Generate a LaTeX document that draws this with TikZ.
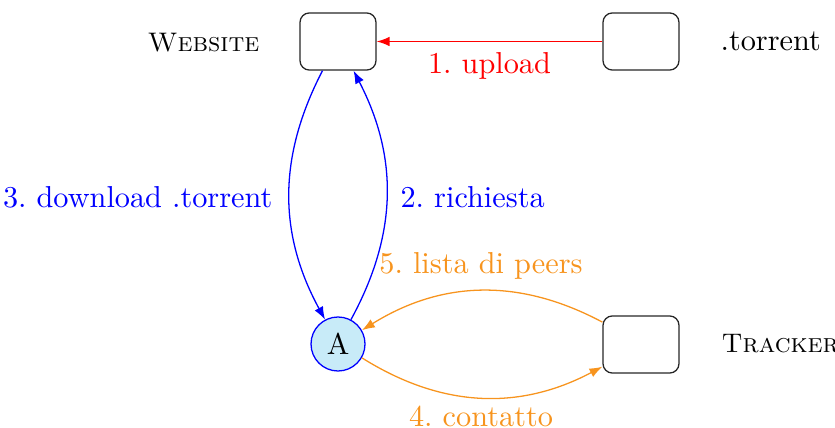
\documentclass[tikz,border=0pt]{standalone}
\usetikzlibrary{arrows.meta}
\definecolor{lblue}{RGB}{200,235,248}
\definecolor{orng}{RGB}{247,148,30}
\frenchspacing
\tikzset{
  box/.style={draw=black!85,rounded corners=3.3pt,minimum width=26.6pt,minimum height=20pt,inner sep=0pt,line width=0.45pt},
  peer/.style={draw=blue,fill=lblue,circle,minimum size=18.9pt,inner sep=0pt,line width=0.45pt},
  lab/.style={inner sep=0pt,font=\fontsize{10.6}{12}\selectfont},
  sclab/.style={inner sep=0pt,font=\fontsize{9.4}{11}\selectfont\scshape},
  conn/.style={-{Latex[length=4.5pt,width=3.3pt]},line width=0.45pt}
}
\begin{document}
\begin{tikzpicture}[x=0.35pt,y=-0.35pt]
\useasboundingbox (0,0) rectangle (835,428);
\node[box] (w) at (338,41.5) {};
\node[box] (t) at (641,41.5) {};
\node[box] (k) at (641,344.5) {};
\node[peer,font=\fontsize{10.5}{12}\selectfont] (a) at (338,344) {A};
\node[sclab,anchor=east] (wl) at (260,43) {Website};
\node[lab,anchor=west] (tl) at (720,41) {.torrent};
\node[sclab,anchor=west] (kl) at (721,344) {Tracker};
\draw[conn,red] (t) -- (w) node[lab,pos=0.5,below=3.6pt] (l1) {1. upload};
\draw[conn,blue] (w) to[bend right=28] (a);
\draw[conn,blue] (a) to[bend right=28] (w);
\node[lab,anchor=east,blue] (l3) at (273,197) {3. download .torrent};
\node[lab,anchor=west,blue] (l2) at (400,197) {2. richiesta};
\draw[conn,orng] (k) to[bend right=30] (a);
\draw[conn,orng] (a) to[bend right=30] (k);
\node[lab,orng] (l5) at (481,266) {5. lista di peers};
\node[lab,orng] (l4) at (481,416) {4. contatto};
\end{tikzpicture}
\end{document}
